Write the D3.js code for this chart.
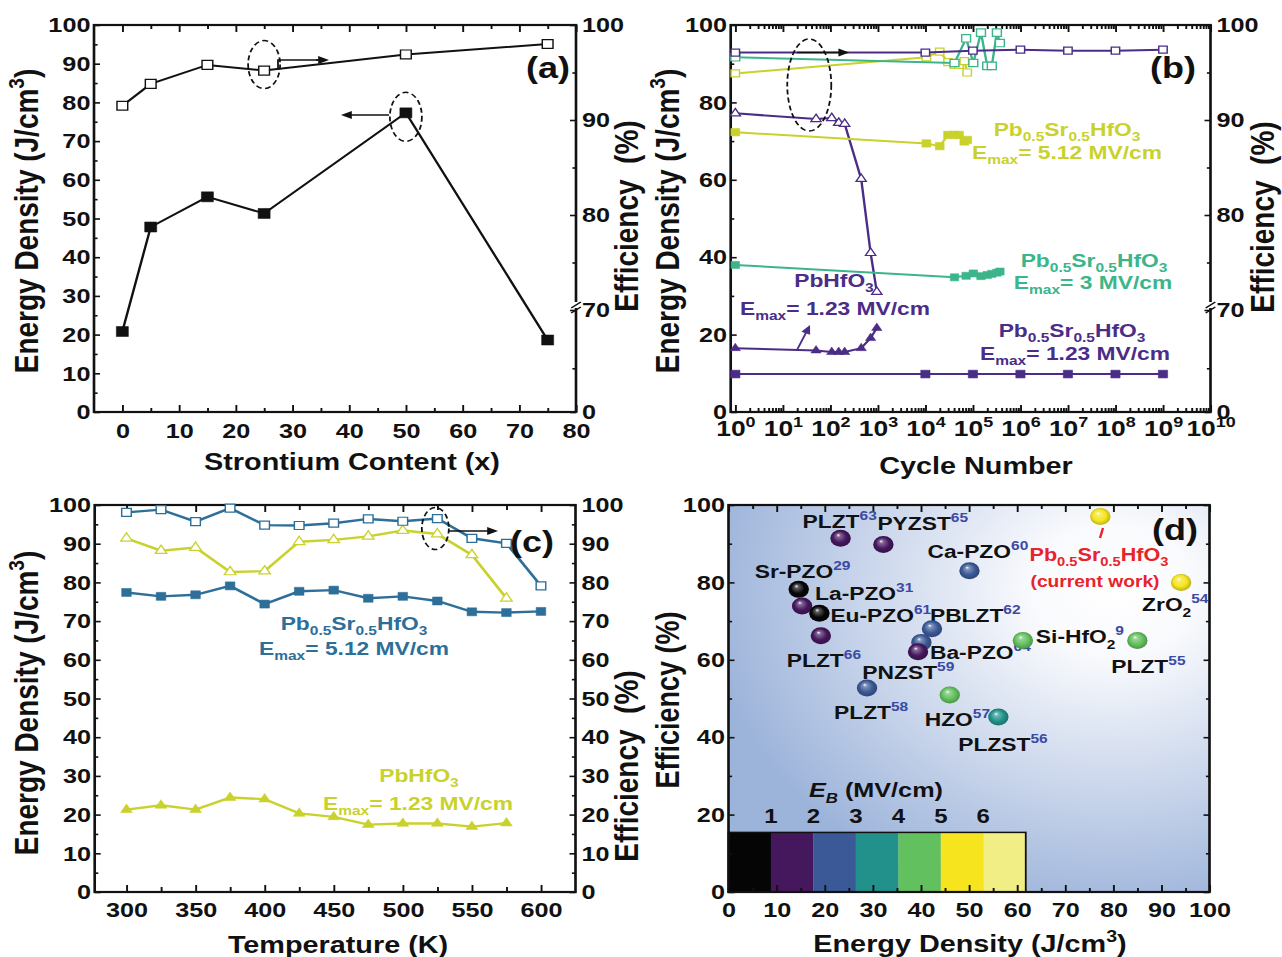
<!DOCTYPE html>
<meta charset="utf-8">
<style>
body{margin:0;background:#fff;}
svg{display:block;}
</style>
<body>
<script src="https://cdn.jsdelivr.net/npm/d3@7"></script>
<script>
// the published picture is stretched sideways, so everything is drawn narrow and scaled
var SX = 1.2;
function px(v){ return v / SX; }

// ---------- (a) strontium content
var srContent    = [0, 5, 15, 25, 50, 75];
var srEnergy     = [20.8, 47.8, 55.6, 51.3, 77.3, 18.6];
var srEfficiency = [91.5, 93.8, 95.8, 95.2, 96.9, 98.0];

// ---------- (b) cycling
var cycPbHfO3        = [1, 50, 107, 150, 200, 446, 704, 950];
var pbHfO3Energy     = [16.5, 15.9, 15.5, 15.5, 15.5, 16.5, 19.1, 21.7];
var pbHfO3Efficiency = [90.7, 90.1, 90.2, 89.7, 89.6, 83.8, 76.0, 71.9];
var cycLow        = [1, 1e4, 1e5, 1e6, 1e7, 1e8, 1e9];
var lowEnergy     = [9.8, 9.8, 9.8, 9.8, 9.8, 9.8, 9.8];
var lowEfficiency = [97.1, 97.1, 97.3, 97.4, 97.3, 97.3, 97.4];
var cycMid        = [1, 4.1e4, 7.2e4, 1.02e5, 1.48e5, 2e5, 2.5e5, 3.2e5, 3.7e5];
var midEnergy     = [38.0, 34.8, 35.2, 35.8, 35.1, 35.4, 35.7, 36.0, 36.3];
var midEfficiency = [96.6, 96.0, 98.6, 96.0, 99.2, 95.7, 95.7, 99.2, 98.1];
var cycHigh        = [1, 1.05e4, 2.0e4, 3.0e4, 4.1e4, 5.1e4, 6.6e4, 7.6e4];
var highEnergy     = [72.3, 69.4, 68.7, 71.6, 71.6, 71.6, 69.9, 70.3];
var highEfficiency = [94.9, 96.6, 97.2, 96.1, 95.8, 95.8, 96.2, 95.0];
var decades = d3.range(0, 11);

// ---------- (c) temperature
var tempBlue = [300, 325, 350, 375, 400, 425, 450, 475, 500, 525, 550, 575, 600];
var blueEnergy     = [77.4, 76.4, 76.8, 79.1, 74.4, 77.7, 78.0, 75.9, 76.4, 75.2, 72.4, 72.2, 72.5];
var blueEfficiency = [98.1, 98.8, 95.7, 99.2, 94.8, 94.7, 95.3, 96.4, 95.8, 96.5, 91.4, 90.1, 79.1];
var tempYellow = [300, 325, 350, 375, 400, 425, 450, 475, 500, 525, 550, 575];
var yellowEnergy     = [21.3, 22.4, 21.3, 24.4, 24.0, 20.3, 19.4, 17.4, 17.7, 17.7, 16.9, 17.8];
var yellowEfficiency = [91.4, 88.2, 89.0, 82.7, 82.9, 90.5, 91.0, 91.9, 93.4, 92.5, 87.1, 75.9];

// ---------- (d) comparison
var refNames  = ["PLZT", "PYZST", "Ca-PZO", "Sr-PZO", "La-PZO", "Eu-PZO", "PLZT", "PBLZT", "PNZST", "Ba-PZO", "Si-HfO_{2}", "PLZT", "HZO", "PLZT", "PLZST", "ZrO_{2}"];
var refCites  = [63, 65, 60, 29, 31, 61, 66, 62, 59, 64, 9, 55, 57, 58, 56, 54];
var refEnergy = [23.3, 32.2, 50.1, 14.6, 15.3, 18.9, 19.2, 42.3, 40.1, 39.4, 61.2, 85.0, 46.0, 28.8, 56.1, 94.1];
var refEff    = [91.4, 89.8, 83.0, 78.2, 73.9, 72.0, 66.2, 68.0, 64.5, 62.1, 65.0, 65.0, 50.9, 52.7, 45.2, 80.0];
var refBin    = [1, 1, 2, 0, 1, 0, 1, 2, 2, 1, 4, 4, 4, 2, 3, 5];
var workPoint = [77.3, 97.0];
var ebLabels  = [1, 2, 3, 4, 5, 6];
var ebColors  = ["#050505", "#45175d", "#3b5996", "#22918b", "#63c05e", "#f6e41e", "#f2ee86"];
// label placement next to each ball (pixels, baseline)
var refLabelOffset = [[-38,-10],[-6,-14],[-42,-13],[-44,-11],[13,-6],[11,9],[-34,31],[-2,-7],[-59,37],[12,7],[13,3],[-26,33],[-25,31],[-33,31],[-40,34],[-39,29]];

var PURPLE = "#4b2c87", YELLOW = "#c9d22c", GREEN = "#3bb589", BLUE = "#2d6f99", INK = "#111";

var svg = d3.select("body").append("svg").attr("width", 1282).attr("height", 957);
var defs = svg.append("defs");
var root = svg.append("g").attr("transform", "scale(" + SX + ",1)")
	.attr("font-family", "'Liberation Sans', Arial, sans-serif").attr("font-weight", "bold").attr("fill", INK);

function rich(text, str, fs, supFill){
	var re = /([_^])\{([^}]*)\}/g, last = 0, shift = 0, m, parts = [];
	while ((m = re.exec(str))) {
		if (m.index > last) parts.push({t: str.slice(last, m.index), k: ""});
		parts.push({t: m[2], k: m[1]});
		last = re.lastIndex;
	}
	if (last < str.length) parts.push({t: str.slice(last), k: ""});
	parts.forEach(function(p){
		var target = p.k == "_" ? 0.28*fs : p.k == "^" ? -0.42*fs : 0;
		var ts = text.append("tspan").text(p.t);
		if (target - shift) ts.attr("dy", target - shift);
		if (p.k) ts.attr("font-size", fs*0.68);
		if (p.k == "^" && supFill) ts.attr("fill", supFill);
		shift = target;
	});
	return text;
}
function label(g, x, y, str, fs, fill, anchor){
	var t = g.append("text").attr("x", px(x)).attr("y", y).attr("font-size", fs)
		.attr("fill", fill || INK).attr("text-anchor", anchor || "middle");
	return rich(t, str, fs);
}
function vTitle(g, x, y, str, fs){
	var t = g.append("text").attr("transform", "translate(" + px(x) + "," + y + ") rotate(-90)")
		.attr("text-anchor", "middle").attr("font-size", fs).style("white-space", "pre");
	return rich(t, str, fs);
}
function drawAxis(g, gen, tr, major, minor, big, small, pad, fmt){
	var a = g.append("g").attr("transform", tr)
		.call(gen.tickValues(major).tickSizeInner(-big).tickSizeOuter(0).tickPadding(pad).tickFormat(fmt || function(){ return ""; }));
	a.select(".domain").remove();
	a.attr("font-size", 21).attr("font-family", null).attr("fill", INK);
	a.selectAll(".tick text").attr("fill", INK);
	if (minor.length) {
		var b = g.append("g").attr("transform", tr)
			.call(gen.tickValues(minor).tickSizeInner(-small).tickFormat(function(){ return ""; }));
		b.select(".domain").remove();
	}
	g.selectAll(".tick line").attr("stroke", INK).attr("stroke-width", 1.6);
	return a;
}
function frame(g, x0, x1, y0, y1){
	g.append("rect").attr("x", x0).attr("y", y0).attr("width", x1 - x0).attr("height", y1 - y0)
		.attr("fill", "none").attr("stroke", INK).attr("stroke-width", 2.2);
}
function axisBreak(g, x, y){
	g.append("rect").attr("x", x - 3).attr("y", y - 8).attr("width", 6).attr("height", 6).attr("fill", "#fff");
	g.append("path").attr("d", "M" + (x-4) + "," + (y-2) + "L" + (x+4) + "," + (y-8) + "M" + (x-4) + "," + (y+3) + "L" + (x+4) + "," + (y-3))
		.attr("stroke", INK).attr("stroke-width", 1.5);
}
function series(g, xs, ys, sx, sy, color, shape, size, open, width){
	var pts = d3.zip(xs, ys);
	g.append("path").datum(pts).attr("fill", "none").attr("stroke", color).attr("stroke-width", width || 2)
		.attr("d", d3.line().x(function(d){ return sx(d[0]); }).y(function(d){ return sy(d[1]); }));
	g.selectAll(null).data(pts).enter().append("path")
		.attr("transform", function(d){ return "translate(" + sx(d[0]) + "," + sy(d[1]) + ")"; })
		.attr("d", d3.symbol().type(shape).size(size))
		.attr("fill", open ? "#fff" : color).attr("stroke", color).attr("stroke-width", open ? 1.2 : 0.5);
}
function arrow(g, x0, y0, x1, y1, color){
	var ang = Math.atan2(y1 - y0, x1 - x0), L = 9, W = 4;
	g.append("line").attr("x1", x0).attr("y1", y0).attr("x2", x1 - Math.cos(ang)*L*0.8).attr("y2", y1 - Math.sin(ang)*L*0.8)
		.attr("stroke", color).attr("stroke-width", 1.6);
	var bx = x1 - Math.cos(ang)*L, by = y1 - Math.sin(ang)*L;
	g.append("path").attr("d", "M" + x1 + "," + y1 + "L" + (bx - Math.sin(ang)*W) + "," + (by + Math.cos(ang)*W) +
		"L" + (bx + Math.sin(ang)*W) + "," + (by - Math.cos(ang)*W) + "Z").attr("fill", color);
}
function ellipse(g, cx, cy, rx, ry){
	g.append("ellipse").attr("cx", cx).attr("cy", cy).attr("rx", rx).attr("ry", ry)
		.attr("fill", "none").attr("stroke", INK).attr("stroke-width", 1.5).attr("stroke-dasharray", "5,3");
}
var fmtInt = d3.format("d");

// ================= (a)
var gA = root.append("g");
var xA = d3.scaleLinear().domain([-5, 80]).range([px(94), px(576)]);
var yA = d3.scaleLinear().domain([0, 100]).range([412, 25]);
var effA = d3.scaleLinear().domain([0, 70, 100]).range([412, 310, 25]);

drawAxis(gA, d3.axisBottom(xA), "translate(0,412)", d3.range(0, 81, 10), d3.range(5, 80, 10), 7, 4, 11, fmtInt);
drawAxis(gA, d3.axisTop(xA), "translate(0,25)", d3.range(0, 81, 10), d3.range(5, 80, 10), 7, 4, 0);
drawAxis(gA, d3.axisLeft(yA), "translate(" + xA.range()[0] + ",0)", d3.range(0, 101, 10), d3.range(5, 100, 10), 5, 3, 3, fmtInt);
drawAxis(gA, d3.axisRight(effA), "translate(" + xA.range()[1] + ",0)", [0, 70, 80, 90, 100], [30, 75, 85, 95], 5, 3, 5, fmtInt);
frame(gA, xA.range()[0], xA.range()[1], 25, 412);
axisBreak(gA, xA.range()[1], effA(70));

series(gA, srContent, srEfficiency, xA, effA, INK, d3.symbolSquare, 80, true, 2);
series(gA, srContent, srEnergy, xA, yA, INK, d3.symbolSquare, 100, false, 2);
ellipse(gA, xA(25), effA(95.2) - 6, px(16), 24);
gA.append("path").attr("d", "M" + px(278) + "," + 68 + "V60H" + px(318)).attr("fill", "none").attr("stroke", INK).attr("stroke-width", 1.5);
arrow(gA, px(316), 60, px(329), 60, INK);
ellipse(gA, xA(50), yA(77.3) + 4, px(16), 24.5);
arrow(gA, px(389), 115, px(341), 115, INK);
label(gA, 548, 78, "(a)", 30);
label(gA, 352, 470, "Strontium Content (x)", 24);
vTitle(gA, 38, 221, "Energy Density (J/cm^{3})", 28);
vTitle(gA, 638, 216, "Efficiency  (%)", 28);

// ================= (b)
var gB = root.append("g");
var xB = d3.scaleLog().domain([0.8, 1e10]).range([px(730.7), px(1210.5)]);
var yB = d3.scaleLinear().domain([0, 100]).range([412, 25]);
var effB = d3.scaleLinear().domain([0, 70, 100]).range([412, 310, 25]);
var majB = decades.map(function(e){ return Math.pow(10, e); });
var minB = [];
decades.slice(0, 10).forEach(function(e){ d3.range(2, 10).forEach(function(k){ minB.push(k*Math.pow(10, e)); }); });

var axB = drawAxis(gB, d3.axisBottom(xB), "translate(0,412)", majB, minB, 7, 4, 8);
axB.selectAll(".tick text").each(function(d, i){
	var t = d3.select(this).attr("dy", null).attr("y", 24).attr("font-size", 22);
	rich(t, "10^{" + decades[i] + "}", 22);
});
drawAxis(gB, d3.axisTop(xB), "translate(0,25)", majB, minB, 7, 4, 0);
drawAxis(gB, d3.axisLeft(yB), "translate(" + xB.range()[0] + ",0)", d3.range(0, 101, 20), d3.range(10, 100, 20), 5, 3, 3, fmtInt);
drawAxis(gB, d3.axisRight(effB), "translate(" + xB.range()[1] + ",0)", [0, 70, 80, 90, 100], [30, 75, 85, 95], 5, 3, 5, fmtInt);
frame(gB, xB.range()[0], xB.range()[1], 25, 412);
axisBreak(gB, xB.range()[1], effB(70));

series(gB, cycHigh, highEfficiency, xB, effB, YELLOW, d3.symbolSquare, 49, true, 2);
series(gB, cycMid, midEfficiency, xB, effB, GREEN, d3.symbolSquare, 55, true, 2);
series(gB, cycLow, lowEfficiency, xB, effB, PURPLE, d3.symbolSquare, 49, true, 2);
series(gB, cycPbHfO3, pbHfO3Efficiency, xB, effB, PURPLE, d3.symbolTriangle, 32, true, 2);
series(gB, cycHigh, highEnergy, xB, yB, YELLOW, d3.symbolSquare, 55, false, 2);
series(gB, cycMid, midEnergy, xB, yB, GREEN, d3.symbolSquare, 50, false, 2);
series(gB, cycLow, lowEnergy, xB, yB, PURPLE, d3.symbolSquare, 60, false, 2);
series(gB, cycPbHfO3, pbHfO3Energy, xB, yB, PURPLE, d3.symbolTriangle, 32, false, 2);

ellipse(gB, xB(36), yB(84.5), px(22), 46);
arrow(gB, xB(20), effB(97.1), xB(250), effB(97.1), INK);
arrow(gB, px(797), 350, px(810), 325, PURPLE);
label(gB, 1173, 78, "(b)", 30);
label(gB, 1067, 136, "Pb_{0.5}Sr_{0.5}HfO_{3}", 19, YELLOW);
label(gB, 1067, 159, "E_{max}= 5.12 MV/cm", 19, YELLOW);
label(gB, 1094, 267, "Pb_{0.5}Sr_{0.5}HfO_{3}", 19, GREEN);
label(gB, 1093, 289, "E_{max}= 3 MV/cm", 19, GREEN);
label(gB, 1072, 337, "Pb_{0.5}Sr_{0.5}HfO_{3}", 19, PURPLE);
label(gB, 1075, 360, "E_{max}= 1.23 MV/cm", 19, PURPLE);
label(gB, 834, 287, "PbHfO_{3}", 19, PURPLE);
label(gB, 835, 315, "E_{max}= 1.23 MV/cm", 19, PURPLE);
label(gB, 976, 474, "Cycle Number", 24);
vTitle(gB, 679, 221, "Energy Density (J/cm^{3})", 28);
vTitle(gB, 1274, 217, "Efficiency  (%)", 28);

// ================= (c)
var gC = root.append("g");
var xC = d3.scaleLinear().domain([277, 625]).range([px(94.7), px(575.5)]);
var yC = d3.scaleLinear().domain([0, 100]).range([892, 505]);

drawAxis(gC, d3.axisBottom(xC), "translate(0,892)", d3.range(300, 601, 50), d3.range(325, 600, 50), 7, 5, 10, fmtInt);
drawAxis(gC, d3.axisTop(xC), "translate(0,505)", d3.range(300, 601, 50), d3.range(325, 600, 50), 7, 5, 0);
drawAxis(gC, d3.axisLeft(yC), "translate(" + xC.range()[0] + ",0)", d3.range(0, 101, 10), d3.range(5, 100, 10), 5, 3, 3, fmtInt);
drawAxis(gC, d3.axisRight(yC), "translate(" + xC.range()[1] + ",0)", d3.range(0, 101, 10), d3.range(5, 100, 10), 5, 3, 5, fmtInt);
frame(gC, xC.range()[0], xC.range()[1], 505, 892);

series(gC, tempYellow, yellowEfficiency, xC, yC, YELLOW, d3.symbolTriangle, 40, true, 2.4);
series(gC, tempBlue, blueEfficiency, xC, yC, BLUE, d3.symbolSquare, 64, true, 2.4);
series(gC, tempBlue, blueEnergy, xC, yC, BLUE, d3.symbolSquare, 64, false, 2.4);
series(gC, tempYellow, yellowEnergy, xC, yC, YELLOW, d3.symbolTriangle, 42, false, 2.4);

ellipse(gC, xC(525) - px(2), yC(96.5) + 10, px(13.5), 21);
arrow(gC, px(449), 531, px(498), 531, INK);
label(gC, 532, 552, "(c)", 30);
label(gC, 354, 630, "Pb_{0.5}Sr_{0.5}HfO_{3}", 19, BLUE);
label(gC, 354, 655, "E_{max}= 5.12 MV/cm", 19, BLUE);
label(gC, 419, 782, "PbHfO_{3}", 19, YELLOW);
label(gC, 418, 810, "E_{max}= 1.23 MV/cm", 19, YELLOW);
label(gC, 338, 953, "Temperature (K)", 24);
vTitle(gC, 38, 703, "Energy Density (J/cm^{3})", 28);
vTitle(gC, 638, 766, "Efficiency  (%)", 28);

// ================= (d)
var gD = root.append("g");
var xD = d3.scaleLinear().domain([0, 100]).range([px(728.5), px(1209.5)]);
var yD = d3.scaleLinear().domain([0, 100]).range([892, 505]);

var bg = defs.append("radialGradient").attr("id", "bgD").attr("cx", 0.8).attr("cy", 0.22).attr("r", 0.85);
bg.append("stop").attr("offset", 0).attr("stop-color", "#ffffff");
bg.append("stop").attr("offset", 0.2).attr("stop-color", "#f9fafd");
bg.append("stop").attr("offset", 1).attr("stop-color", "#9cb3da");
gD.append("rect").attr("x", xD(0)).attr("y", yD(100)).attr("width", xD(100) - xD(0)).attr("height", yD(0) - yD(100))
	.attr("fill", "url(#bgD)");

ebColors.forEach(function(c, i){
	var base = d3.color(c);
	var gr = defs.append("radialGradient").attr("id", "ball" + i).attr("cx", 0.5).attr("cy", 0.5).attr("r", 0.55)
		.attr("fx", 0.38).attr("fy", 0.3);
	gr.append("stop").attr("offset", 0).attr("stop-color", "#ffffff");
	gr.append("stop").attr("offset", 0.18).attr("stop-color", d3.interpolateRgb(c, "#fff")(0.35));
	gr.append("stop").attr("offset", 0.6).attr("stop-color", c);
	gr.append("stop").attr("offset", 1).attr("stop-color", base.darker(0.9).formatHex());
});

// E_B colour bar
var ebScale = d3.scaleLinear().domain([0, 7]).range([xD(0), xD(61.8)]);
gD.selectAll(".eb").data(ebColors).enter().append("rect")
	.attr("x", function(d, i){ return ebScale(i); }).attr("y", yD(15.4))
	.attr("width", ebScale(1) - ebScale(0)).attr("height", yD(0) - yD(15.4)).attr("fill", function(d){ return d; });
gD.append("rect").attr("x", ebScale(0)).attr("y", yD(15.4)).attr("width", ebScale(7) - ebScale(0)).attr("height", yD(0) - yD(15.4))
	.attr("fill", "none").attr("stroke", INK).attr("stroke-width", 1.5);
gD.selectAll(".ebl").data(ebLabels).enter().append("text")
	.attr("x", function(d){ return ebScale(d); }).attr("y", 823).attr("text-anchor", "middle").attr("font-size", 20)
	.text(function(d){ return d; });
var ebT = gD.append("text").attr("x", px(809)).attr("y", 797).attr("font-size", 21);
ebT.append("tspan").attr("font-style", "italic").text("E");
ebT.append("tspan").attr("font-style", "italic").attr("font-size", 14).attr("dy", 6).text("B");
ebT.append("tspan").attr("dy", -6).text(" (MV/cm)");

drawAxis(gD, d3.axisBottom(xD), "translate(0,892)", d3.range(0, 101, 10), d3.range(5, 100, 10), 7, 4, 10, fmtInt);
drawAxis(gD, d3.axisTop(xD), "translate(0,505)", d3.range(0, 101, 10), d3.range(5, 100, 10), 7, 4, 0);
drawAxis(gD, d3.axisLeft(yD), "translate(" + xD.range()[0] + ",0)", d3.range(0, 101, 20), d3.range(10, 100, 20), 5, 3, 3, fmtInt);
drawAxis(gD, d3.axisRight(yD), "translate(" + xD.range()[1] + ",0)", d3.range(0, 101, 20), d3.range(10, 100, 20), 5, 3, 0);
frame(gD, xD.range()[0], xD.range()[1], 505, 892);

refNames.forEach(function(n, i){
	var cx = xD(refEnergy[i]), cy = yD(refEff[i]), off = refLabelOffset[i];
	var t = gD.append("text").attr("x", cx + px(off[0])).attr("y", cy + off[1]).attr("font-size", 19);
	rich(t, n + "^{" + refCites[i] + "}", 19, "#3b4aa3");
});
gD.selectAll(".ball").data(refNames).enter().append("circle")
	.attr("cx", function(d, i){ return xD(refEnergy[i]); }).attr("cy", function(d, i){ return yD(refEff[i]); })
	.attr("r", 8.5).attr("fill", function(d, i){ return "url(#ball" + refBin[i] + ")"; });
gD.append("circle").attr("cx", xD(workPoint[0])).attr("cy", yD(workPoint[1])).attr("r", 8.5).attr("fill", "url(#ball5)");
gD.append("line").attr("x1", px(1103)).attr("y1", 528).attr("x2", px(1100)).attr("y2", 538).attr("stroke", "#e8232b").attr("stroke-width", 2);
label(gD, 1099, 561, "Pb_{0.5}Sr_{0.5}HfO_{3}", 18, "#e8232b");
label(gD, 1095, 587, "(current work)", 16, "#e8232b");
label(gD, 1175, 540, "(d)", 30);
label(gD, 970, 952, "Energy Density (J/cm^{3})", 24);
vTitle(gD, 679, 700, "Efficiency (%)", 27);
</script>
</body>
